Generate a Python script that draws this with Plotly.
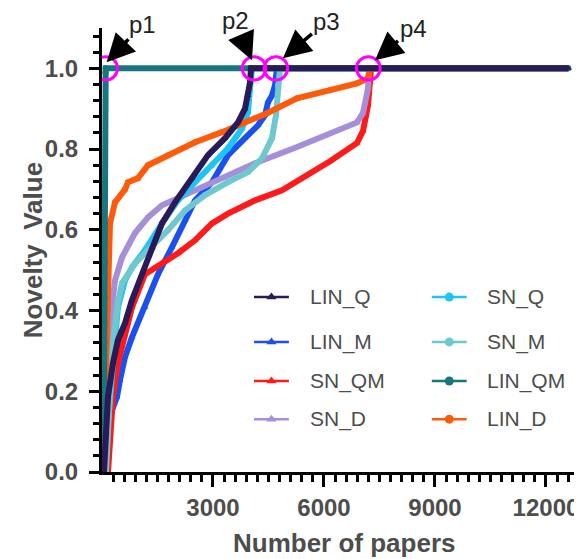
import plotly.graph_objects as go

# ---------------- data ----------------
END_X = 12600

LIN_Q_x = [54, 108, 162, 297, 432, 622, 811, 1081, 1352, 1622, 1973, 2433, 2865, 3325, 3676, 3865, 3946, 4000, 4027, END_X]
LIN_Q_y = [0.0, 0.10, 0.186, 0.27, 0.327, 0.369, 0.426, 0.49, 0.557, 0.616, 0.668, 0.728, 0.785, 0.827, 0.866, 0.90, 0.933, 0.965, 1.0, 1.0]

LIN_M_x = [81, 162, 270, 405, 487, 622, 811, 1162, 1514, 1892, 2244, 2514, 2973, 3406, 3865, 4217, 4406, 4487, 4595, 4676, 4730, END_X]
LIN_M_y = [0.0, 0.104, 0.153, 0.186, 0.228, 0.285, 0.334, 0.408, 0.49, 0.557, 0.624, 0.673, 0.718, 0.785, 0.827, 0.859, 0.884, 0.916, 0.933, 0.958, 1.0, 1.0]

SN_QM_x = [162, 216, 297, 432, 622, 811, 1162, 1622, 2054, 2514, 2973, 3406, 4136, 4865, 5271, 6163, 6893, 7055, 7190, 7244, 7271, END_X]
SN_QM_y = [0.0, 0.08, 0.186, 0.27, 0.34, 0.408, 0.49, 0.517, 0.542, 0.574, 0.616, 0.64, 0.673, 0.698, 0.72, 0.77, 0.815, 0.845, 0.908, 0.965, 1.0, 1.0]

SN_D_x = [81, 162, 216, 351, 541, 892, 1243, 1622, 2325, 3244, 4136, 5271, 6163, 6893, 7055, 7190, 7217, END_X]
SN_D_y = [0.0, 0.30, 0.369, 0.475, 0.532, 0.592, 0.631, 0.661, 0.69, 0.728, 0.765, 0.805, 0.84, 0.866, 0.89, 0.95, 1.0, 1.0]

SN_Q_x = [54, 216, 351, 432, 622, 811, 1162, 1622, 2054, 2514, 2973, 3406, 3784, 3946, 4000, 4055, END_X]
SN_Q_y = [0.0, 0.20, 0.327, 0.408, 0.475, 0.507, 0.55, 0.616, 0.673, 0.718, 0.76, 0.802, 0.851, 0.891, 0.95, 1.0, 1.0]

SN_M_x = [108, 270, 432, 541, 892, 1352, 1784, 2244, 2784, 3406, 3946, 4325, 4595, 4703, 4757, 4811, END_X]
SN_M_y = [0.0, 0.30, 0.42, 0.468, 0.517, 0.557, 0.599, 0.648, 0.686, 0.718, 0.743, 0.777, 0.827, 0.884, 0.958, 1.0, 1.0]

LIN_QM_x = [40, 50, 55, 60, 62, 65, 68, 70, 75, 80, 95, 100, END_X]
LIN_QM_y = [0.0, 0.16, 0.19, 0.25, 0.29, 0.32, 0.37, 0.43, 0.52, 0.66, 0.99, 1.0, 1.0]

LIN_D_x = [27, 135, 162, 216, 351, 622, 703, 973, 1243, 1784, 2514, 3244, 3865, 4487, 5271, 6163, 6893, 7190, 7244, END_X]
LIN_D_y = [0.0, 0.33, 0.53, 0.616, 0.668, 0.70, 0.718, 0.728, 0.76, 0.785, 0.817, 0.842, 0.866, 0.89, 0.926, 0.946, 0.963, 0.975, 1.0, 1.0]

series_names = ["LIN_Q", "LIN_M", "SN_QM", "SN_D", "SN_Q", "SN_M", "LIN_QM", "LIN_D"]
series_x = [LIN_Q_x, LIN_M_x, SN_QM_x, SN_D_x, SN_Q_x, SN_M_x, LIN_QM_x, LIN_D_x]
series_y = [LIN_Q_y, LIN_M_y, SN_QM_y, SN_D_y, SN_Q_y, SN_M_y, LIN_QM_y, LIN_D_y]
series_colors = ["#2a1a57", "#1a50f0", "#ff1a1a", "#a58fd8", "#1ec4f4", "#6ec8ce", "#167780", "#ff5a0a"]
series_symbols = ["triangle-up"] * 4 + ["circle"] * 4

# highlighted points p1..p4 (x in papers, y value)
point_labels = ["p1", "p2", "p3", "p4"]
point_x = [100, 4110, 4700, 7200]
point_y = [1.0, 1.0, 1.0, 1.0]

x_tickvals = [3000, 6000, 9000, 12000]
x_minor_ticks = list(range(300, 12901, 300))
y_tickvals = [0.0, 0.2, 0.4, 0.6, 0.8, 1.0]
X_MAX = 12920

GRAY = "#4d4d4d"
FONT = "Liberation Sans, Arial, sans-serif"

fig = go.Figure()

# draw order: put LIN_QM and LIN_Q last so their 1.0 plateaus are on top
draw_order = [1, 2, 3, 4, 5, 7, 6, 0]
for i in draw_order:
    fig.add_trace(go.Scatter(
        x=series_x[i], y=series_y[i], name=series_names[i], mode="lines+markers",
        line=dict(color=series_colors[i], width=6),
        marker=dict(symbol=series_symbols[i], size=6, color=series_colors[i]),
        showlegend=False, cliponaxis=False,
    ))

# ---- manual legend drawn on an overlay axis in plot-fraction coordinates ----
leg_rows = [0.394, 0.293, 0.205, 0.119]
leg_cols = [(0.318, 0.391, 0.431), (0.690, 0.763, 0.801)]
for k in range(8):
    col = k // 4
    row = k % 4
    x0, x1, xt = leg_cols[col]
    yy = leg_rows[row]
    fig.add_trace(go.Scatter(
        x=[x0, (x0 + x1) / 2, x1], y=[yy, yy, yy], xaxis="x2", yaxis="y2",
        mode="lines", line=dict(color=series_colors[k], width=2.5),
        showlegend=False, hoverinfo="skip",
    ))
    fig.add_trace(go.Scatter(
        x=[(x0 + x1) / 2], y=[yy], xaxis="x2", yaxis="y2",
        mode="markers", marker=dict(symbol=series_symbols[k], size=9, color=series_colors[k]),
        showlegend=False, hoverinfo="skip",
    ))
    fig.add_annotation(
        x=xt, y=yy, xref="x2", yref="y2", text=series_names[k], showarrow=False,
        xanchor="left", yanchor="middle", font=dict(size=21, color=GRAY, family=FONT),
    )

# ---- magenta circles and arrows ----
rx, ry = 320, 0.029
arrow_off = [(36, -38), (-17, -40), (44, -37), (38, -32)]
tip_dx = [25, -55, 190, 180]
tip_dy = [0.015, 0.02, 0.025, 0.02]
for j in range(4):
    fig.add_shape(type="circle", xref="x", yref="y",
                  x0=point_x[j] - rx, x1=point_x[j] + rx,
                  y0=point_y[j] - ry, y1=point_y[j] + ry,
                  line=dict(color="#ff00ff", width=3))
    fig.add_annotation(
        x=point_x[j] + tip_dx[j], y=point_y[j] + tip_dy[j], xref="x", yref="y",
        text=point_labels[j], showarrow=True, ax=arrow_off[j][0], ay=arrow_off[j][1],
        arrowhead=2, arrowsize=1.6, arrowwidth=3.5, arrowcolor="black",
        font=dict(size=24, color="#222222", family=FONT),
    )

# axis titles placed as annotations in paper coordinates
fig.add_annotation(x=0.508, y=-0.16, xref="paper", yref="paper", text="<b>Number of papers</b>",
                   showarrow=False, xanchor="center", yanchor="middle",
                   font=dict(size=26, color=GRAY, family=FONT))
fig.add_annotation(x=-0.144, y=0.5, xref="paper", yref="paper", text="<b>Novelty  Value</b>",
                   showarrow=False, xanchor="center", yanchor="middle", textangle=-90,
                   font=dict(size=26, color=GRAY, family=FONT))

# the page body adds an 8px offset, so the figure is 8px smaller on each axis
fig.update_layout(
    width=574, height=551,
    margin=dict(l=94, r=2, t=20, b=87, autoexpand=False),
    paper_bgcolor="white", plot_bgcolor="white",
    font=dict(family=FONT, color=GRAY),
    xaxis=dict(
        range=[0, X_MAX], tickvals=x_tickvals, ticktext=[str(v) for v in x_tickvals],
        ticks="outside", ticklen=12, tickwidth=3, tickcolor="black", automargin=False,
        showline=True, linewidth=3, linecolor="black", showgrid=False, zeroline=False,
        tickfont=dict(size=24, color=GRAY, family=FONT, weight="bold"),
        minor=dict(tickmode="array", tickvals=x_minor_ticks, ticks="outside", ticklen=7,
                   tickwidth=2.5, tickcolor="black", showgrid=False),
    ),
    yaxis=dict(
        range=[0, 1.1], tickvals=y_tickvals, tickformat=".1f",
        ticks="outside", ticklen=10, tickwidth=3, tickcolor="black", automargin=False,
        showline=True, linewidth=3, linecolor="black", showgrid=False, zeroline=False,
        tickfont=dict(size=24, color=GRAY, family=FONT, weight="bold"), ticklabelstandoff=6,
        minor=dict(dtick=0.04, tick0=0, ticks="outside", ticklen=6, tickwidth=2.5, tickcolor="black", showgrid=False),
    ),
    xaxis2=dict(range=[0, 1], overlaying="x", visible=False, fixedrange=True),
    yaxis2=dict(range=[0, 1], overlaying="y", visible=False, fixedrange=True),
    showlegend=False,
)

fig.write_html("out.html")
